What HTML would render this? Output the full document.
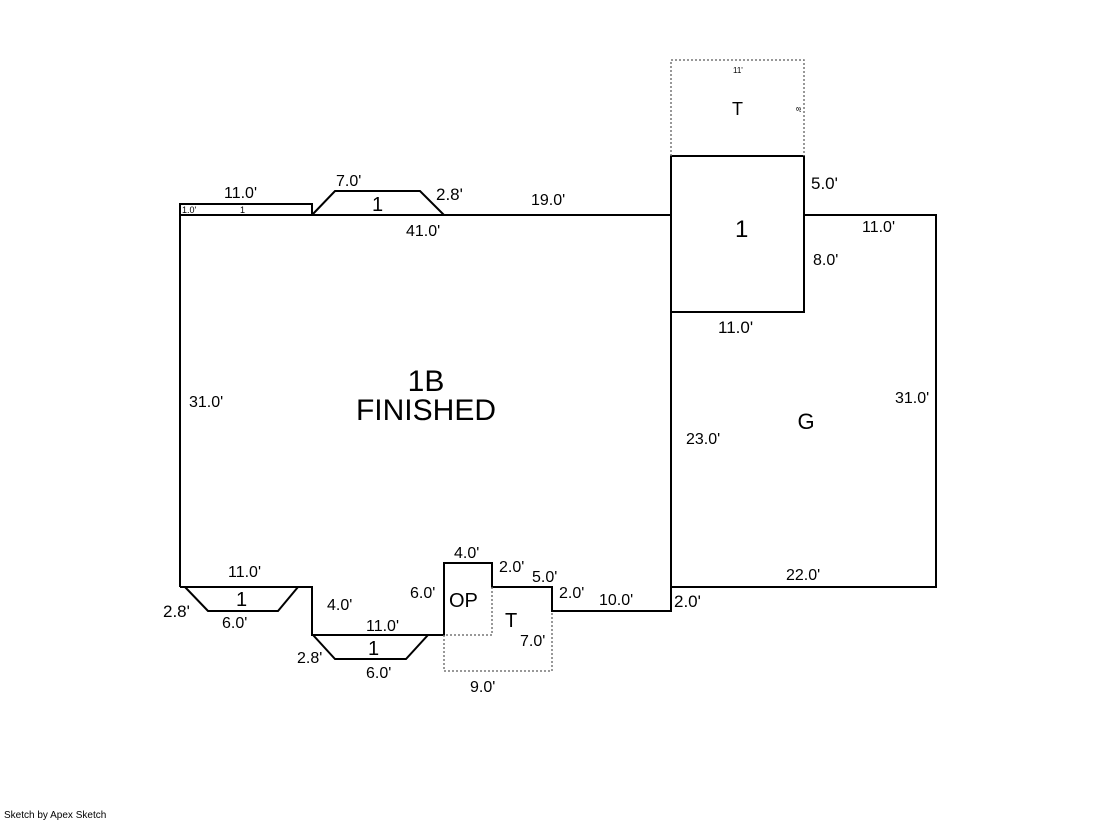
<!DOCTYPE html>
<html><head><style>body{margin:0;background:#fff}svg{display:block}text{font-family:"Liberation Sans",sans-serif;fill:#000}</style></head><body>
<svg width="1119" height="821" viewBox="0 0 1119 821">
<g fill="none" stroke="#000" stroke-width="2">
<polyline points="180,587 180,215 671,215"/>
<rect x="180" y="204" width="132" height="11"/>
<polyline points="312,215 335,191 420,191 444,215"/>
<rect x="671" y="156" width="133" height="156"/>
<polyline points="671,215 671,611 552,611 552,587 492,587 492,563 444,563 444,635 312,635 312,587 180,587"/>
<polyline points="804,215 936,215 936,587 671,587"/>
<polyline points="185,587 208,611 278,611 298,587"/>
<polyline points="313,635 335,659 406,659 428,635"/>
</g>
<g fill="none" stroke="#777" stroke-width="1.5" stroke-dasharray="2,2">
<polyline points="671,156 671,60 804,60 804,156"/>
<polyline points="492,587 492,635 444,635"/>
<polyline points="444,635 444,671 552,671 552,611"/>
</g>
<g font-size="16">
<text x="224" y="198">11.0'</text>
<text x="336" y="186">7.0'</text>
<text x="436" y="200" font-size="17">2.8'</text>
<text x="531" y="205">19.0'</text>
<text x="406" y="236">41.0'</text>
<text x="811" y="189" font-size="17">5.0'</text>
<text x="862" y="232">11.0'</text>
<text x="813" y="265">8.0'</text>
<text x="718" y="333" font-size="17">11.0'</text>
<text x="189" y="407">31.0'</text>
<text x="895" y="403">31.0'</text>
<text x="686" y="444">23.0'</text>
<text x="786" y="580">22.0'</text>
<text x="228" y="577">11.0'</text>
<text x="163" y="617" font-size="17">2.8'</text>
<text x="222" y="628">6.0'</text>
<text x="327" y="610">4.0'</text>
<text x="366" y="631">11.0'</text>
<text x="297" y="663">2.8'</text>
<text x="366" y="678">6.0'</text>
<text x="410" y="598">6.0'</text>
<text x="454" y="558">4.0'</text>
<text x="499" y="572">2.0'</text>
<text x="532" y="582">5.0'</text>
<text x="559" y="598">2.0'</text>
<text x="599" y="605">10.0'</text>
<text x="674" y="607" font-size="17">2.0'</text>
<text x="520" y="646">7.0'</text>
<text x="470" y="692">9.0'</text>
</g>
<text x="182" y="213" font-size="9">1.0'</text>
<text x="240" y="213" font-size="9">1</text>
<text x="733" y="73" font-size="8">11'</text>
<text x="796" y="107" font-size="7" transform="rotate(90 796 107)">8'</text>
<text x="372" y="211" font-size="20">1</text>
<text x="735" y="237" font-size="24">1</text>
<text x="732" y="115" font-size="18">T</text>
<text x="426" y="391" font-size="30" text-anchor="middle">1B</text>
<text x="426" y="420" font-size="30" text-anchor="middle">FINISHED</text>
<text x="806" y="429" font-size="22" text-anchor="middle">G</text>
<text x="236" y="606" font-size="20">1</text>
<text x="368" y="655" font-size="20">1</text>
<text x="449" y="607" font-size="20">OP</text>
<text x="505" y="627" font-size="20">T</text>
<text x="4" y="818" font-size="10">Sketch by Apex Sketch</text>
</svg>
</body></html>
